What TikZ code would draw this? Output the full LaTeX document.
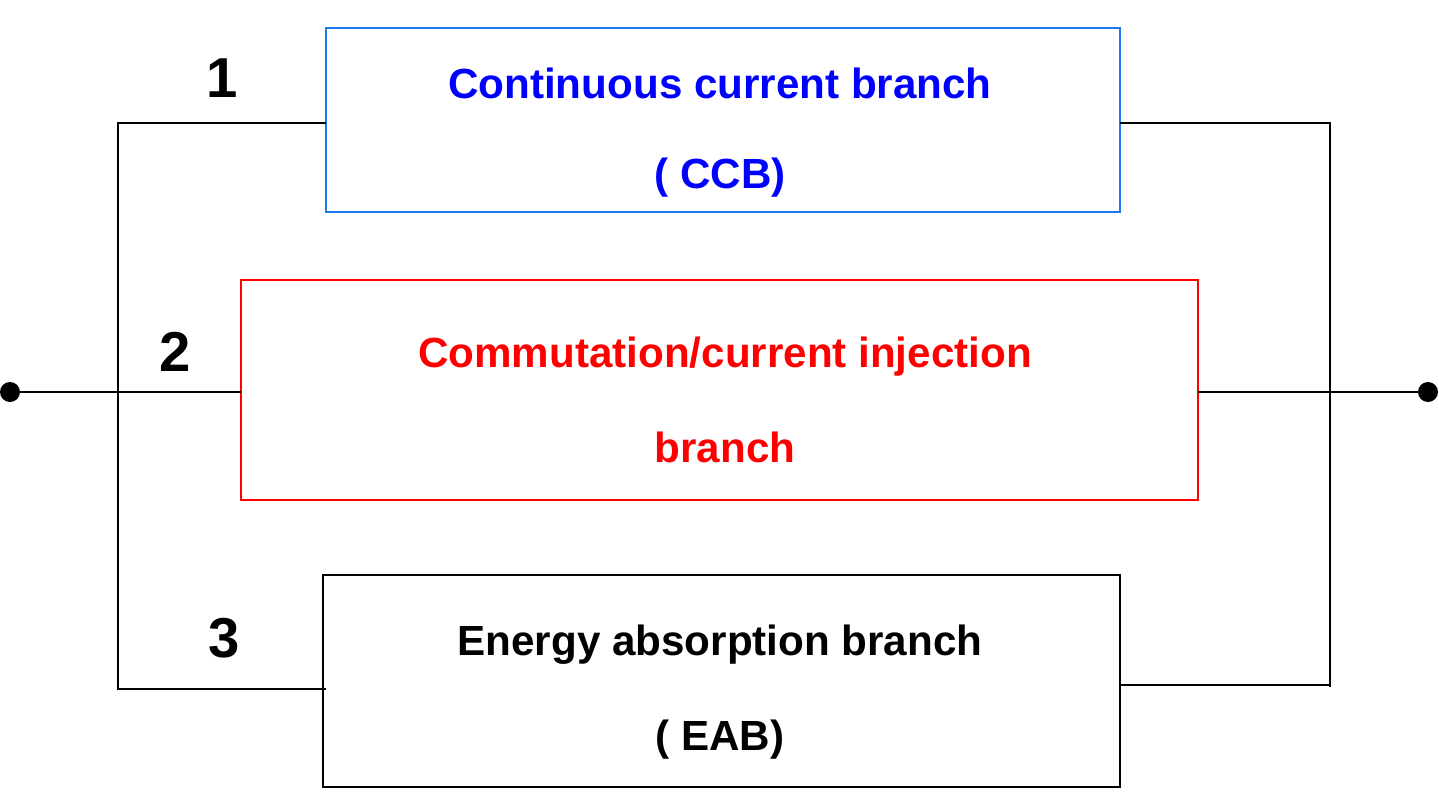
\documentclass[tikz,border=0pt]{standalone}
\usepackage{fontspec}
\setmainfont{Liberation Sans}
\definecolor{bbord}{RGB}{30,120,240}
\begin{document}
\begin{tikzpicture}[x=0.02cm,y=-0.02cm,
  wire/.style={line width=1.6pt,black},
  txt/.style={font=\fontsize{24}{28}\selectfont\bfseries},
  num/.style={font=\fontsize{32}{36}\selectfont\bfseries},
  dot/.style={circle,fill=black,inner sep=0pt,minimum size=0.4cm}]
\useasboundingbox (0,0) rectangle (1439,794);
\draw[line width=1.6pt,bbord] (326,28) rectangle (1120,212);
\draw[line width=1.6pt,red] (241,280) rectangle (1198,500);
\draw[line width=1.6pt,black] (323,575) rectangle (1120,787);
\node[txt,text=blue] (t1a) at (720,83) {Continuous current branch};
\node[txt,text=blue] (t1b) at (720,178) {( CCB)};
\node[txt,text=red] (t2a) at (725,357) {Commutation/current injection};
\node[txt,text=red] (t2b) at (725,447) {branch};
\node[txt] (t3a) at (720,645) {Energy absorption branch};
\node[txt] (t3b) at (720,740) {( EAB)};
\node[num] (n1) at (222,78) {1};
\node[num] (n2) at (175,352) {2};
\node[num] (n3) at (224,638) {3};
\node[dot] (dl) at (10,392) {};
\node[dot] (dr) at (1428,392) {};
\coordinate (lt) at (118,123); \coordinate (lb) at (118,689);
\coordinate (rt) at (1330,123); \coordinate (rb) at (1330,687);
\draw[wire] (326,123) -- (lt) -- (lb) -- (326,689);
\draw[wire] (1120,123) -- (rt) -- (rb);
\draw[wire] (1120,685) -- (1330,685);
\draw[wire] (dl) -- (241,392);
\draw[wire] (1198,392) -- (dr);
\end{tikzpicture}
\end{document}
